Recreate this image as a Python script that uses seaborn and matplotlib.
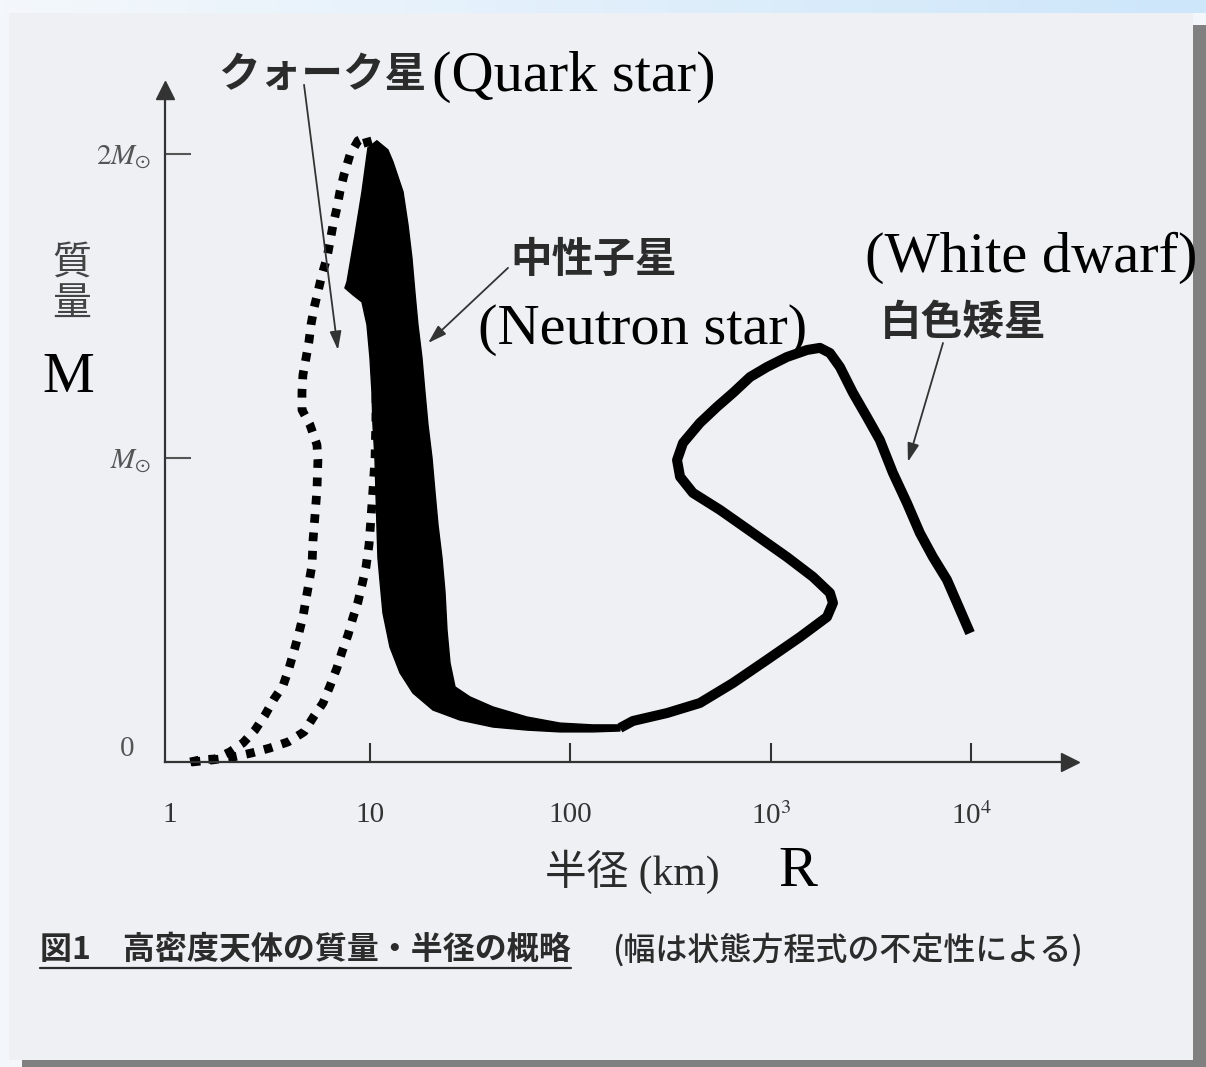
import matplotlib
matplotlib.use("Agg")
import matplotlib.pyplot as plt
import matplotlib.transforms as mtransforms
import numpy as np
import seaborn as sns
from matplotlib.patches import Rectangle
from matplotlib.lines import Line2D
from matplotlib.ticker import NullLocator
from matplotlib.colors import LinearSegmentedColormap

# ---- mass-radius data (R in km, M in solar masses) ----
# quark stars: outer (left) dotted edge
quark_outer_r = [1.27, 1.42, 1.69, 2.00, 2.33, 2.67, 3.00, 3.32, 3.68, 3.95,
                 4.18, 4.42, 4.63, 4.80, 4.96, 5.14, 5.20, 5.32, 5.44, 5.50,
                 5.44, 5.02, 4.58, 4.58, 4.63, 4.80, 4.96, 5.08, 5.26, 5.50,
                 5.76, 6.10, 6.32, 6.54, 6.84, 7.08, 7.42, 7.95, 8.71, 9.55]
quark_outer_m = [0.0, 0.007, 0.010, 0.033, 0.063, 0.105, 0.155, 0.207, 0.250, 0.309,
                 0.365, 0.424, 0.477, 0.536, 0.589, 0.648, 0.730, 0.812, 0.895, 0.993,
                 1.043, 1.109, 1.158, 1.217, 1.273, 1.329, 1.382, 1.438, 1.493, 1.546,
                 1.602, 1.658, 1.711, 1.766, 1.822, 1.875, 1.931, 1.997, 2.043, 2.056]

# quark stars: inner (right) dotted edge
quark_inner_r = [1.29, 1.65, 2.07, 2.58, 3.17, 3.90, 4.69, 5.26, 5.83, 6.32,
                 6.84, 7.25, 7.77, 8.22, 8.71, 9.12, 9.55, 9.89, 10.1, 10.35,
                 10.6, 10.7, 10.8, 10.7, 10.5, 10.0, 9.55]
quark_inner_m = [0.0, 0.007, 0.016, 0.030, 0.046, 0.066, 0.099, 0.151, 0.194, 0.250,
                 0.309, 0.362, 0.418, 0.474, 0.526, 0.582, 0.641, 0.714, 0.796, 0.895,
                 1.0, 1.125, 1.355, 1.65, 1.88, 2.01, 2.056]

# neutron stars: band between a stiff and a soft equation of state
ns_stiff_r = [10.83, 12.29, 13.02, 14.62, 15.48, 16.19, 16.75, 17.35, 18.17, 18.80,
              19.47, 20.39, 21.10, 21.84, 22.87, 23.67, 24.22, 25.07, 26.56, 31.54,
              41.06, 60.66, 88.67, 129.5, 176.6]
ns_stiff_m = [2.043, 2.013, 1.974, 1.875, 1.766, 1.658, 1.546, 1.438, 1.329, 1.217,
              1.109, 1.000, 0.888, 0.780, 0.671, 0.559, 0.434, 0.326, 0.247, 0.214,
              0.181, 0.148, 0.128, 0.122, 0.122]
ns_soft_r = [10.83, 9.77, 9.12, 8.42, 7.68, 7.50, 8.23, 9.12, 9.66, 10.0,
             10.23, 10.35, 10.59, 10.71, 10.83, 10.96, 11.21, 11.61, 12.58, 14.12,
             16.37, 20.61, 28.10, 41.06, 60.66, 88.67, 129.5, 176.6]
ns_soft_m = [2.043, 2.020, 1.875, 1.734, 1.579, 1.559, 1.536, 1.513, 1.438, 1.329,
             1.217, 1.109, 1.000, 0.888, 0.780, 0.671, 0.599, 0.490, 0.378, 0.293,
             0.227, 0.171, 0.138, 0.115, 0.105, 0.099, 0.099, 0.102]

# white dwarfs
wd_r = [176.6, 205, 303, 442, 647, 955, 1396, 1903, 2038, 1968,
        1619, 1202, 813, 557, 408, 352, 340, 364, 442, 538,
        647, 786, 955, 1202, 1513, 1754, 1968, 2208, 2564, 3007,
        3491, 4055, 4764, 5530, 6424, 7547, 8770, 9840]
wd_m = [0.112, 0.135, 0.161, 0.194, 0.260, 0.336, 0.411, 0.477, 0.523, 0.556,
        0.609, 0.674, 0.753, 0.829, 0.885, 0.938, 0.993, 1.049, 1.115, 1.168,
        1.214, 1.266, 1.299, 1.332, 1.355, 1.362, 1.345, 1.299, 1.214, 1.135,
        1.059, 0.951, 0.852, 0.753, 0.674, 0.599, 0.500, 0.424]

# axes
x_limits = (0.95, 31000)
y_limits = (0, 2.21)
x_tick_values = [1, 10, 100, 1000, 10000]
x_tick_labels = ["1", "10", "100", "10$^{3}$", "10$^{4}$"]
y_tick_values = [0, 1, 2]
y_tick_labels = ["0", r"$M_{\odot}$", r"$2M_{\odot}$"]

# ---- style ----
sns.set_theme(style="white")
plt.rcParams["font.family"] = ["Liberation Serif", "Noto Sans CJK JP", "DejaVu Sans"]
plt.rcParams["mathtext.fontset"] = "stix"

W, H = 1206, 1067
fig = plt.figure(figsize=(W / 100, H / 100), dpi=100)
fig.patch.set_facecolor("#f3f7fb")


def fx(p):
    return p / W


def fy(p):
    return 1 - p / H


# slide background: header gradient, drop shadow and panel
band = fig.add_axes([0, fy(13), 1, 13 / H], zorder=-3)
band.imshow(np.linspace(0, 1, 256)[None, :], aspect="auto", extent=(0, 1, 0, 1),
            cmap=LinearSegmentedColormap.from_list("hdr", ["#f4f8fc", "#cde6fa"]))
band.set_axis_off()
fig.add_artist(Rectangle((fx(22), 0), 1 - fx(22), fy(25), transform=fig.transFigure,
                         facecolor="#808080", edgecolor="none", zorder=-2))
fig.add_artist(Rectangle((fx(9), fy(1060)), fx(1193) - fx(9), fy(13) - fy(1060),
                         transform=fig.transFigure, facecolor="#eff0f4",
                         edgecolor="none", zorder=-1))

# ---- main axes ----
ax = fig.add_axes([fx(165), fy(762), fx(1070) - fx(165), (762 - 90) / H])
ax.set_facecolor("none")
ax.set_xscale("log")
ax.set_xlim(*x_limits)
ax.set_ylim(*y_limits)

dots = dict(color="black", linewidth=6.3, linestyle=(0, (1.0, 1.1)),
            dash_capstyle="butt", clip_on=False, zorder=2)
sns.lineplot(x=quark_outer_r, y=quark_outer_m, sort=False, estimator=None, ax=ax, **dots)
sns.lineplot(x=quark_inner_r, y=quark_inner_m, sort=False, estimator=None, ax=ax, **dots)

ax.fill(np.r_[ns_stiff_r, ns_soft_r[::-1]], np.r_[ns_stiff_m, ns_soft_m[::-1]],
        facecolor="black", edgecolor="black", linewidth=1, zorder=3)

sns.lineplot(x=wd_r, y=wd_m, sort=False, estimator=None, ax=ax, color="black",
             linewidth=7.2, solid_joinstyle="round", solid_capstyle="butt", zorder=3)

# axis lines with arrow heads
for s in ["top", "right"]:
    ax.spines[s].set_visible(False)
for s in ["left", "bottom"]:
    ax.spines[s].set_color("#333333")
    ax.spines[s].set_linewidth(1.6)
ax.plot([1], [0], marker=">", ms=13, color="#333333", transform=ax.transAxes, clip_on=False)
ax.plot([0], [1], marker="^", ms=13, color="#333333", transform=ax.transAxes, clip_on=False)

ax.set_xticks(x_tick_values, x_tick_labels)
ax.xaxis.set_minor_locator(NullLocator())
ax.set_yticks(y_tick_values, y_tick_labels)
ax.tick_params(axis="x", bottom=True, direction="in", length=14, width=1.5, color="#333333",
               labelcolor="#333333", labelsize=21, pad=29)
ax.tick_params(axis="y", left=True, direction="in", length=19, width=1.5, color="#555555",
               labelcolor="#555555", labelsize=21, pad=10)
ax.xaxis.get_major_ticks()[0].tick1line.set_visible(False)
zero_tick = ax.yaxis.get_major_ticks()[0]
zero_tick.tick1line.set_visible(False)
zero_tick.label1.set_verticalalignment("bottom")
zero_tick.label1.set_transform(zero_tick.label1.get_transform()
                               + mtransforms.ScaledTranslation(-0.17, 0, fig.dpi_scale_trans))

# pointer arrows
arrow = dict(arrowstyle="-|>,head_length=0.7,head_width=0.22", color="#333333",
             lw=1.3, mutation_scale=16, shrinkA=0, shrinkB=0)
ax.annotate("", xy=(6.92, 1.355), xytext=(4.69, 2.227), arrowprops=arrow, annotation_clip=False)
ax.annotate("", xy=(19.5, 1.378), xytext=(48.8, 1.625), arrowprops=arrow, annotation_clip=False)
ax.annotate("", xy=(4820, 0.987), xytext=(7210, 1.378), arrowprops=arrow, annotation_clip=False)

# ---- labels ----
cjk = "Noto Sans CJK JP"
ink = "#2b2b2b"
fig.text(fx(218), fy(75), "クォーク星", fontsize=30, fontweight="bold", family=cjk,
         color=ink, va="center")
fig.text(fx(432), fy(77), "(Quark star)", fontsize=42, color="black", va="center")
fig.text(fx(510), fy(260), "中性子星", fontsize=30, fontweight="bold", family=cjk,
         color=ink, va="center")
fig.text(fx(478), fy(330), "(Neutron star)", fontsize=42, color="black", va="center")
fig.text(fx(865), fy(258), "(White dwarf)", fontsize=42, color="black", va="center")
fig.text(fx(880), fy(323), "白色矮星", fontsize=30, fontweight="bold", family=cjk,
         color=ink, va="center")

fig.text(fx(72), fy(283), "質\n量", fontsize=28, family=cjk, color="#444444",
         ha="center", va="center", linespacing=1.05)
fig.text(fx(68), fy(378), "M", fontsize=42, color="black", ha="center", va="center")
fig.text(fx(545), fy(872), "半径 (km)", fontsize=30, color="#2b2b2b", va="center")
fig.text(fx(778), fy(872), "R", fontsize=42, color="black", va="center")

cap1 = fig.text(fx(40), fy(950), "図1　高密度天体の質量・半径の概略", fontsize=23,
                fontweight="bold", family=cjk, color=ink, va="center")
fig.text(fx(612), fy(950), "(幅は状態方程式の不定性による)", fontsize=23,
         fontweight="medium", family=cjk, color=ink, va="center")

fig.canvas.draw()
bb = cap1.get_window_extent().transformed(fig.transFigure.inverted())
fig.add_artist(Line2D([bb.x0, bb.x1], [bb.y0 - 0.002, bb.y0 - 0.002],
                      transform=fig.transFigure, color=ink, lw=1.6))

fig.savefig("out.png", dpi=100, facecolor=fig.get_facecolor())
